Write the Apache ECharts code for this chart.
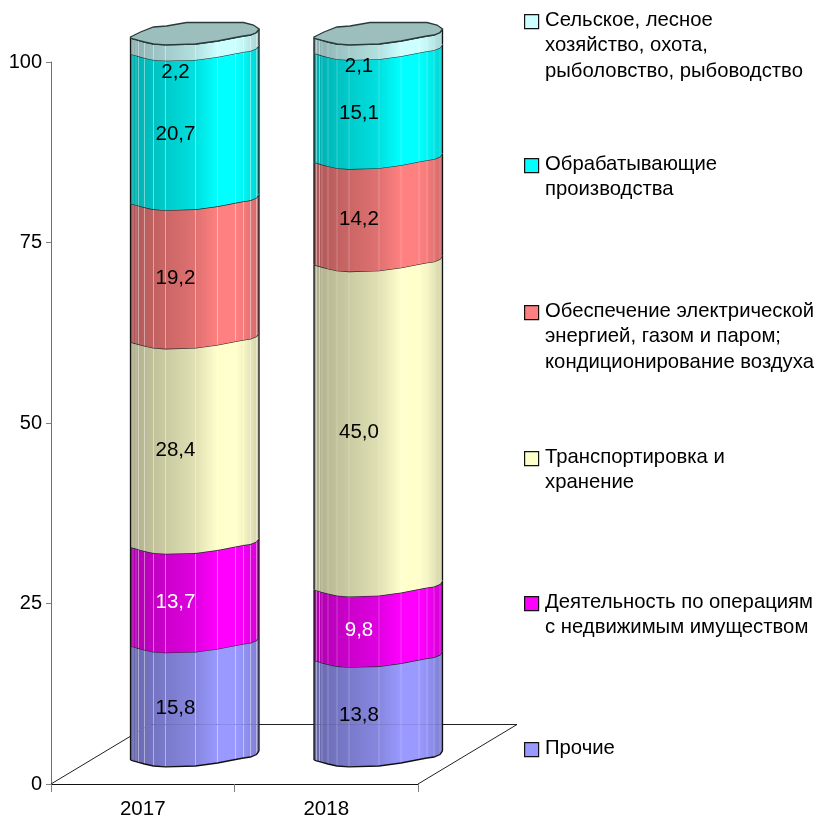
<!DOCTYPE html>
<html><head><meta charset="utf-8">
<style>html,body{margin:0;padding:0;background:#fff}#c{width:821px;height:818px}</style>
<script src="https://cdn.jsdelivr.net/npm/echarts@6/dist/echarts.min.js"></script>
</head><body><div id="c"></div>
<script>
const categories = ['2017', '2018'];
const seriesNames = [
  'Прочие',
  'Деятельность по операциям с недвижимым имуществом',
  'Транспортировка и хранение',
  'Обеспечение электрической энергией, газом и паром; кондиционирование воздуха',
  'Обрабатывающие производства',
  'Сельское, лесное хозяйство, охота, рыболовство, рыбоводство'
];
const prochie = [15.8, 13.8];
const nedvizh = [13.7, 9.8];
const transport = [28.4, 45.0];
const energy = [19.2, 14.2];
const obrab = [20.7, 15.1];
const selskoe = [2.2, 2.1];
const allValues = [prochie, nedvizh, transport, energy, obrab, selskoe];
const colors = ['#9999FF', '#FF00FF', '#FFFFCC', '#FF8080', '#00FFFF', '#CCFFFF'];
const labelColors = ['#000', '#fff', '#000', '#000', '#000', '#000'];
const yTicks = [0, 25, 50, 75, 100];
const legendLines = [
  ['Прочие'],
  ['Деятельность по операциям', 'с недвижимым имуществом'],
  ['Транспортировка и', 'хранение'],
  ['Обеспечение электрической', 'энергией, газом и паром;', 'кондиционирование воздуха'],
  ['Обрабатывающие', 'производства'],
  ['Сельское, лесное', 'хозяйство, охота,', 'рыболовство, рыбоводство']
];
const legendTop = [748, 602, 457, 311, 164, 20];

// styling geometry of the pseudo-3D cylinder
const FONT = '"Liberation Sans", Arial, sans-serif';
const BAR_SHIFT = 52, BAR_W = 128.5, LEFT_DY = -24;
const DEPTH = [99, -59.5];
const profX = [0, 2.5, 5.5, 8, 14, 23, 35, 65, 87, 105, 113, 120, 126, 128.5];
const profFront = [0, .8, 1.6, 2.4, 4, 6, 6.8, 6, 3, -.5, -2, -3, -5.5, -9];
const backX = [0, 2, 10, 23, 36, 56, 113, 123, 128.5];
const backDy = [-1, -2, -6, -11, -12, -15.5, -15.5, -13, -9];
const shadeX = [0, 23, 65, 87, 105, 113, 128.5];
const shadeV = [.68, .76, .88, 1, 1, .96, .82];

function shade(hex, f) {
  const n = parseInt(hex.slice(1), 16);
  const c = [n >> 16 & 255, n >> 8 & 255, n & 255].map(v => Math.round(v * f));
  return 'rgb(' + c.join(',') + ')';
}
function lerp(xs, ys, x) {
  for (let i = 1; i < xs.length; i++) if (x <= xs[i]) {
    return ys[i - 1] + (ys[i] - ys[i - 1]) * (x - xs[i - 1]) / (xs[i] - xs[i - 1]);
  }
  return ys[ys.length - 1];
}

function renderCyl(sIdx, params, api) {
  const cat = api.value(0), start = api.value(1), end = api.value(2), val = api.value(3);
  const xL = api.coord([cat, 0])[0] + BAR_SHIFT - BAR_W / 2;
  const yB = api.coord([cat, start])[1] + LEFT_DY;
  const yT = api.coord([cat, end])[1] + LEFT_DY;
  const base = colors[sIdx];
  const kids = [];
  for (let i = 0; i < profX.length - 1; i++) {
    const a = profX[i], b = profX[i + 1];
    kids.push({
      type: 'polygon',
      shape: { points: [
        [xL + a, yT + profFront[i]], [xL + b, yT + profFront[i + 1]],
        [xL + b, yB + profFront[i + 1]], [xL + a, yB + profFront[i]]
      ] },
      style: {
        fill: new echarts.graphic.LinearGradient(0, 0, 1, 0, [
          { offset: 0, color: shade(base, lerp(shadeX, shadeV, a)) },
          { offset: 1, color: shade(base, lerp(shadeX, shadeV, b)) }
        ]),
        stroke: null
      }
    });
    if (i > 0) kids.push({
      type: 'line',
      shape: { x1: xL + a, y1: yT + profFront[i], x2: xL + a, y2: yB + profFront[i] },
      style: { stroke: 'rgba(255,255,255,0.24)', lineWidth: 1 }
    });
  }
  const curve = y => profX.map((d, i) => [xL + d, y + profFront[i]]);
  kids.push({ type: 'polyline', shape: { points: curve(yT) }, style: { stroke: '#1c2a2a', lineWidth: 1.3, fill: null } });
  if (start === 0) kids.push({ type: 'polyline', shape: { points: curve(yB) }, style: { stroke: '#111', lineWidth: 1.3, fill: null } });
  const endDy = profFront[profFront.length - 1];
  kids.push({ type: 'line', shape: { x1: xL, y1: yT, x2: xL, y2: yB }, style: { stroke: '#111', lineWidth: 1.3 } });
  kids.push({ type: 'line', shape: { x1: xL + BAR_W, y1: yT + endDy, x2: xL + BAR_W, y2: yB + endDy }, style: { stroke: '#111', lineWidth: 1.3 } });
  if (sIdx === allValues.length - 1) {
    const lid = curve(yT).concat(backX.slice().reverse().map((d, i) => [xL + d, yT + backDy[backX.length - 1 - i]]));
    kids.push({ type: 'polygon', shape: { points: lid }, style: { fill: '#9CBEBC', stroke: '#2a3a3a', lineWidth: 1.3 } });
  }
  const small = val < 5;
  const nudge = small ? (cat === 0 ? 2.5 : -3) : -18.5;
  kids.push({
    type: 'text',
    style: {
      text: val.toFixed(1).replace('.', ','),
      x: xL + 45, y: api.coord([cat, (start + end) / 2])[1] + nudge,
      align: 'center', verticalAlign: 'middle',
      font: '20.5px ' + FONT, fill: labelColors[sIdx]
    }
  });
  return { type: 'group', children: kids };
}

function floorParts(api) {
  const band = api.size([1, 0])[0];
  const o = api.coord([0, 0]); const x0 = o[0] - band / 2; const y0 = o[1];
  const x1 = api.coord([1, 0])[0] + band / 2;
  return { x0, y0, x1, band };
}
function renderFloor(params, api) {
  const f = floorParts(api);
  const s = { stroke: '#222', lineWidth: 1, fill: null };
  return { type: 'polyline', shape: { points: [
    [f.x0, f.y0], [f.x0 + DEPTH[0], f.y0 + DEPTH[1]],
    [f.x1 + DEPTH[0], f.y0 + DEPTH[1]], [f.x1, f.y0]
  ] }, style: s };
}
function renderGhost(params, api) {
  const f = floorParts(api);
  return { type: 'line', shape: {
    x1: f.x0 + DEPTH[0], y1: f.y0 + DEPTH[1], x2: f.x1 + DEPTH[0], y2: f.y0 + DEPTH[1]
  }, style: { stroke: 'rgba(40,40,60,0.12)', lineWidth: 1 } };
}

const cumulative = [0, 0];
const series = [
  { type: 'custom', name: 'floor', z: 1, silent: true, clip: false, renderItem: renderFloor, data: [[0]], encode: { x: 0 } }
];
allValues.forEach((vals, s) => {
  const rows = vals.map((v, c) => {
    const st = cumulative[c];
    cumulative[c] = Math.round((st + v) * 10) / 10;
    return [c, st, cumulative[c], v];
  });
  series.push({
    type: 'custom', name: seriesNames[s], z: 3, clip: false,
    renderItem: renderCyl.bind(null, s),
    encode: { x: 0, y: 2 }, data: rows
  });
});
series.push({ type: 'custom', name: 'ghost', z: 5, silent: true, clip: false, renderItem: renderGhost, data: [[0]], encode: { x: 0 } });

const graphic = [];
legendLines.forEach((lines, s) => {
  const top = legendTop[s];
  graphic.push({
    type: 'rect', left: 524, top: top - 6,
    shape: { width: 14, height: 14 },
    style: { fill: colors[s], stroke: '#111', lineWidth: 1.2 }
  });
  lines.forEach((t, i) => graphic.push({
    type: 'text', left: 545, top: top - 10 + i * 25.7,
    style: { text: t, font: '20.3px ' + FONT, fill: '#000' }
  }));
});

const chart = echarts.init(document.getElementById('c'), null, { renderer: 'canvas' });
chart.setOption({
  animation: false,
  backgroundColor: '#fff',
  grid: { left: 51, top: 62, width: 367, height: 722, containLabel: false, outerBoundsMode: 'none' },
  xAxis: {
    type: 'category', data: categories, boundaryGap: true,
    axisLine: { lineStyle: { color: '#111', width: 1 } },
    axisTick: { show: true, length: 8, alignWithLabel: false, lineStyle: { color: '#808080', width: 1 } },
    axisLabel: { color: '#000', fontFamily: 'Liberation Sans', fontSize: 20.5, margin: 15 }
  },
  yAxis: {
    type: 'value', min: yTicks[0], max: yTicks[yTicks.length - 1], interval: 25,
    axisLine: { show: true, lineStyle: { color: '#6e6e6e', width: 1 } },
    axisTick: { show: true, length: 5, lineStyle: { color: '#808080', width: 1 } },
    axisLabel: { color: '#000', fontFamily: 'Liberation Sans', fontSize: 20, margin: 9 },
    splitLine: { show: false }
  },
  graphic,
  series
});
</script></body></html>
